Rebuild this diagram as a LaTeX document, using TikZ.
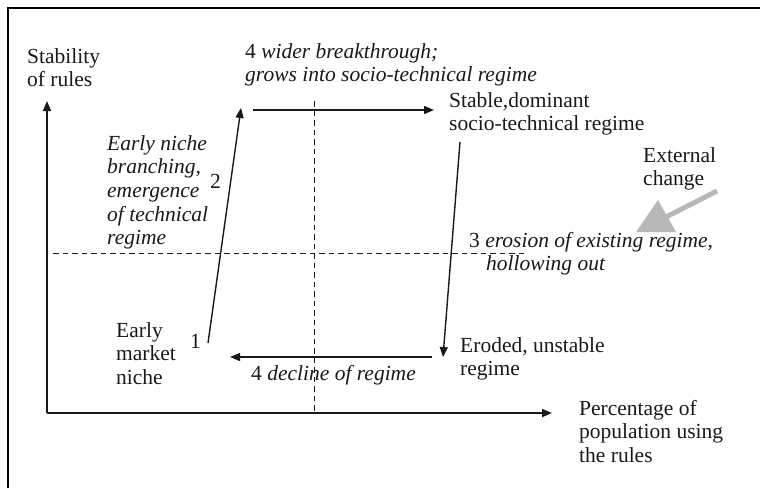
\documentclass[tikz,border=0pt]{standalone}
\usepackage{fontspec}
\setmainfont{Liberation Serif}
\usetikzlibrary{arrows.meta}
\definecolor{inkdark}{RGB}{25,25,25}
\definecolor{extgrey}{RGB}{182,184,186}
\newcommand{\txtlines}[1]{\begin{tabular}[t]{@{}l@{}}#1\end{tabular}}
\tikzset{
  txt/.style={anchor=base west, inner sep=0pt, text=inkdark,
    font=\fontsize{21.5}{23.7}\selectfont},
  frameline/.style={line width=2.6pt, black},
  axis/.style={line width=1.8pt, inkdark, -{Triangle[length=10pt,width=8pt]}},
  flow/.style={line width=1.4pt, inkdark, -{Triangle[length=10pt,width=8pt]}},
  guide/.style={line width=0.9pt, inkdark, dash pattern=on 5.5pt off 4pt},
}
\begin{document}
\begin{tikzpicture}[x=1pt,y=-1pt]
\useasboundingbox (0,0) rectangle (760,488);

% outer frame (top and left edges)
\draw[frameline] (7.8,488) -- (7.8,7.8) -- (760,7.8);

% axes
\coordinate (origin) at (47,413);
\coordinate (ytop) at (47,101);
\coordinate (xend) at (552,413);
\draw[axis] (origin) -- (ytop);
\draw[axis] (origin) -- (xend);

% dashed quadrant guides
\coordinate (hl) at (53,253);
\coordinate (hr) at (525,253);
\coordinate (vt) at (314,101);
\coordinate (vb) at (314,413);
\draw[guide] (hl) -- (hr);
\draw[guide] (vt) -- (vb);

% cycle corners
\coordinate (nicheup) at (208,343);
\coordinate (breaktip) at (241,108);
\coordinate (widestart) at (253,110);
\coordinate (wideend) at (434,110);
\coordinate (erodestart) at (460,142);
\coordinate (erodeend) at (443,357);
\coordinate (declstart) at (432,357);
\coordinate (declend) at (230,357);

\draw[flow] (nicheup) -- (breaktip);
\draw[flow] (widestart) -- (wideend);
\draw[flow] (erodestart) -- (erodeend);
\draw[flow] (declstart) -- (declend);

% external change arrow
\coordinate (extstart) at (717,191);
\coordinate (extneck) at (664,218);
\coordinate (extl) at (658,200);
\coordinate (extr) at (676,232);
\coordinate (exttip) at (636,232);
\draw[extgrey, line width=5pt] (extstart) -- (extneck);
\fill[extgrey] (exttip) -- (extl) -- (extr) -- cycle;

% labels
\node[txt] (ylab) at (27,63) {\txtlines{Stability\\of rules}};
\node[txt] (xlab) at (579,415) {\txtlines{Percentage of\\population using\\the rules}};
\node[txt] (wide) at (245,58) {\txtlines{4 \textit{wider breakthrough;}\\\textit{grows into socio-technical regime}}};
\node[txt] (stable) at (449,107) {\txtlines{Stable,dominant\\socio-technical regime}};
\node[txt] (ext) at (643,162) {\txtlines{External\\change}};
\node[txt] (branch) at (107,150) {\txtlines{\textit{Early niche}\\\textit{branching,}\\\textit{emergence}\\\textit{of technical}\\\textit{regime}}};
\node[txt] (two) at (210,188) {2};
\node[txt] (erosion) at (469,247) {\txtlines{3 \textit{erosion of existing regime,}\\\hspace{17pt}\textit{hollowing out}}};
\node[txt] (niche) at (116,337) {\txtlines{Early\\market\\niche}};
\node[txt] (one) at (190,348) {1};
\node[txt] (decline) at (251,380) {4 \textit{decline of regime}};
\node[txt] (eroded) at (460,352) {\txtlines{Eroded, unstable\\regime}};
\end{tikzpicture}
\end{document}
